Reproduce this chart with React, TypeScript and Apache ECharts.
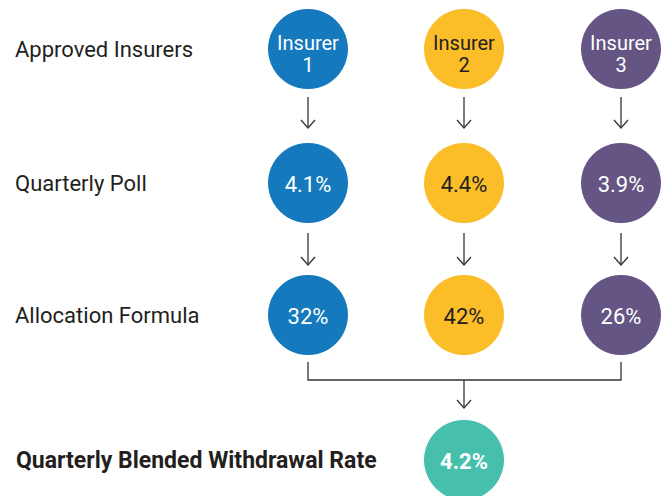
import React, { useEffect, useRef } from "react";
import * as echarts from "echarts";

const insurers = ["Insurer\n1", "Insurer\n2", "Insurer\n3"];
const pollRates = ["4.1%", "4.4%", "3.9%"];
const allocations = ["32%", "42%", "26%"];
const blendedRate = "4.2%";
const rowLabels = ["Approved Insurers", "Quarterly Poll", "Allocation Formula", "Quarterly Blended Withdrawal Rate"];

const colors = ["#1479bd", "#fbbd28", "#655584"];
const blendedColor = "#46bfad";
const textColors = ["#ffffff", "#231f20", "#ffffff"];

// layout (pixels)
const colX = [308, 464, 621];
const rowY = [49, 183, 315, 460];
const R = 40;
const lineColor = "#333333";
const font = "Roboto, 'Noto Sans', sans-serif";

export default function App() {
  const ref = useRef<HTMLDivElement>(null);
  useEffect(() => {
    if (!ref.current) return;
    const chart = echarts.init(ref.current, null, { renderer: "svg" });

    const rows = [insurers, pollRates, allocations];
    const data: any[] = [];
    rows.forEach((row, ri) => {
      row.forEach((txt, ci) => {
        data.push({
          value: [colX[ci], rowY[ri]],
          itemStyle: { color: colors[ci], opacity: 1 },
          label: {
            formatter: txt,
            color: textColors[ci],
            fontSize: ri === 0 ? 20 : 22,
            lineHeight: 22,
            offset: ri === 0 ? [0, 5] : [0, 1],
          },
        });
      });
    });
    data.push({
      value: [colX[1], rowY[3]],
      itemStyle: { color: blendedColor, opacity: 1 },
      label: { formatter: blendedRate, color: "#ffffff", fontSize: 22, fontWeight: "bold", offset: [0, 1] },
    });

    const arrow = (x: number, y1: number, y2: number) => [
      { type: "line", shape: { x1: x, y1, x2: x, y2 }, style: { stroke: lineColor, lineWidth: 1.3 } },
      {
        type: "polyline",
        shape: { points: [[x - 7, y2 - 8], [x, y2], [x + 7, y2 - 8]] },
        style: { stroke: lineColor, lineWidth: 1.3, fill: null },
      },
    ];

    const graphics: any[] = [];
    colX.forEach((x) => {
      graphics.push(...arrow(x, 97, 128));
      graphics.push(...arrow(x, 233, 265));
    });
    graphics.push({
      type: "polyline",
      shape: { points: [[colX[0], 362], [colX[0], 380], [colX[2], 380], [colX[2], 362]] },
      style: { stroke: lineColor, lineWidth: 1.3, fill: null },
    });
    graphics.push(...arrow(colX[1], 380, 408));
    rowLabels.forEach((t, i) => {
      graphics.push({
        type: "text",
        x: i === 3 ? 16 : 15,
        y: rowY[i],
        style: {
          text: t,
          fill: "#231f20",
          font: i === 3 ? `bold 23px ${font}` : `22px ${font}`,
          verticalAlign: "middle",
          align: "left",
        },
      });
    });

    chart.setOption({
      animation: false,
      textStyle: { fontFamily: font },
      grid: { left: 0, right: 0, top: 0, bottom: 0 },
      xAxis: { type: "value", min: 0, max: 664, show: false },
      yAxis: { type: "value", min: 0, max: 496, inverse: true, show: false },
      series: [
        {
          type: "scatter",
          symbol: "circle",
          symbolSize: R * 2,
          clip: false,
          data,
          itemStyle: { opacity: 1 },
          emphasis: { disabled: true },
          label: { show: true, position: "inside", fontFamily: font },
          z: 3,
        },
      ],
      graphic: graphics,
    });
    return () => chart.dispose();
  }, []);
  return (
    <div
      ref={ref}
      style={{ position: "fixed", left: 0, top: 0, width: 664, height: 496, background: "#ffffff" }}
    />
  );
}
